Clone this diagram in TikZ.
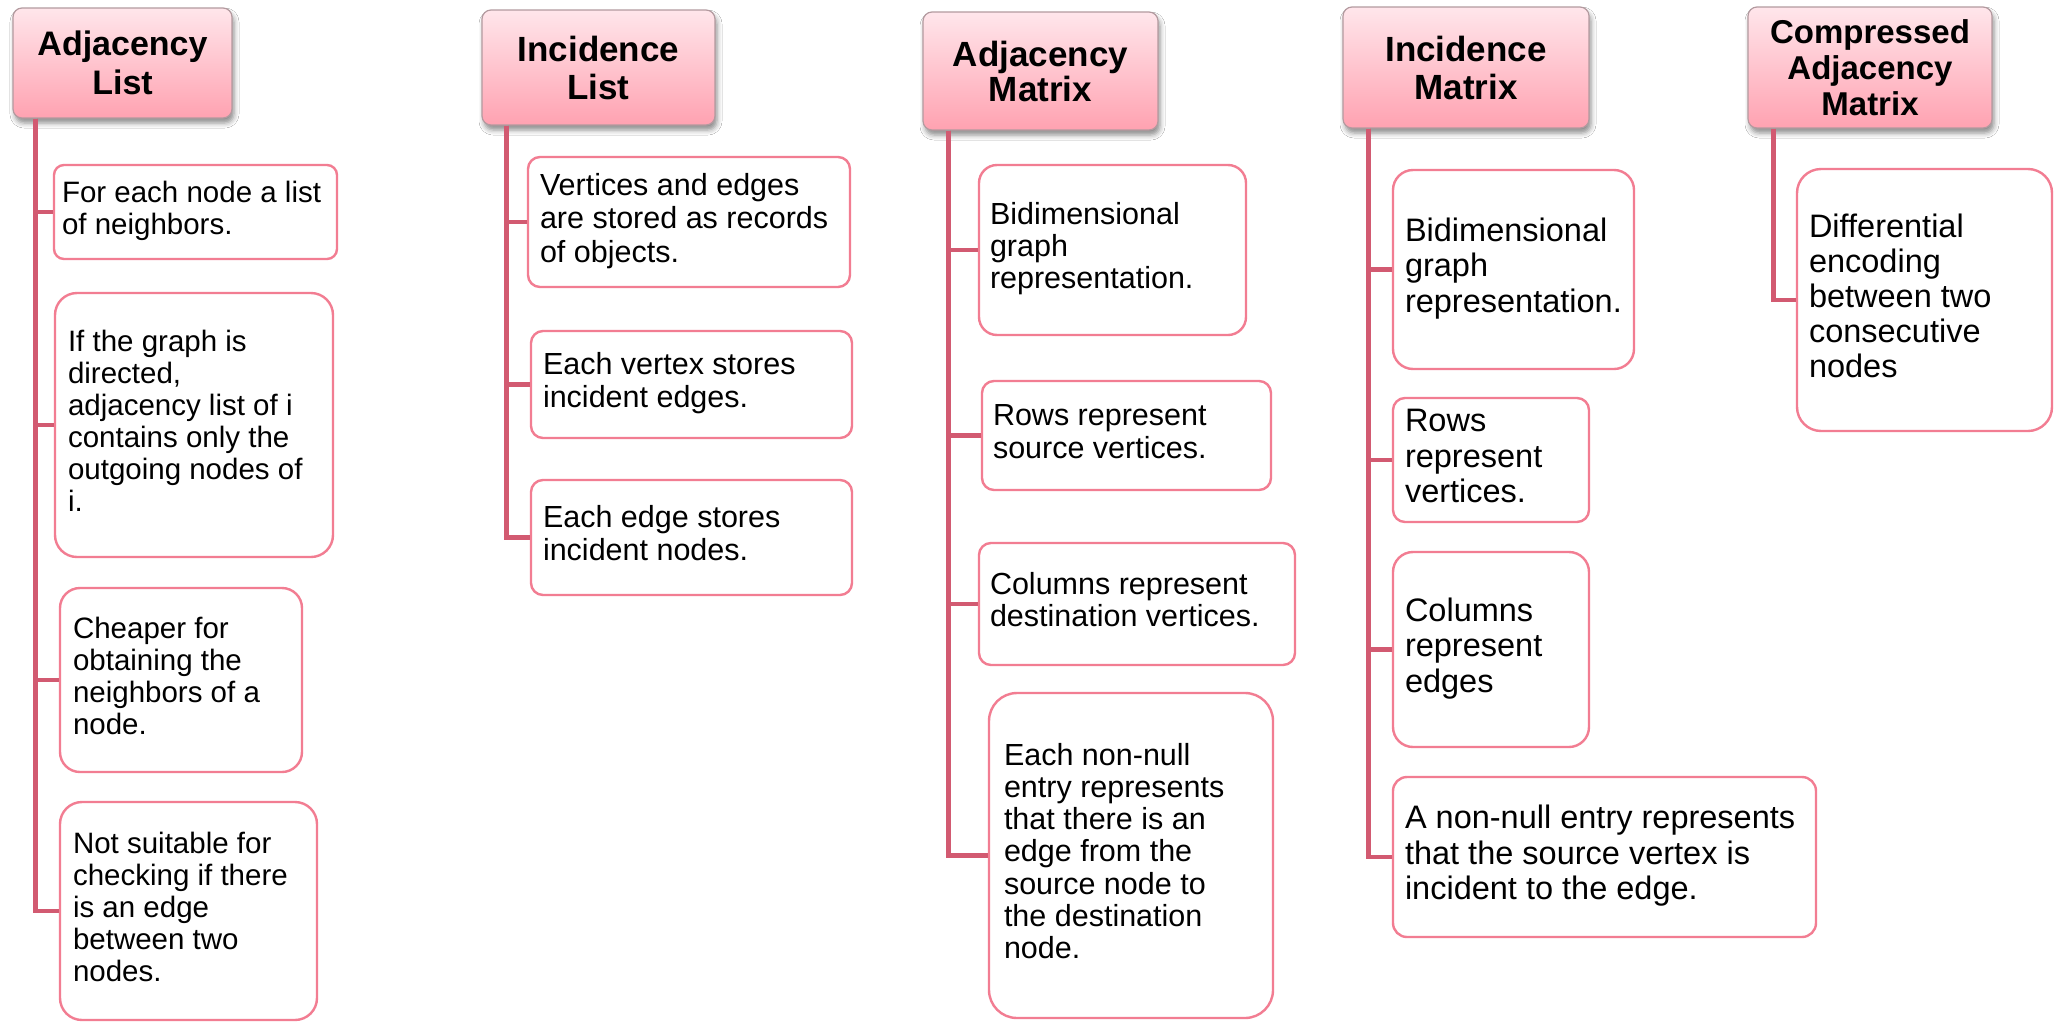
\documentclass[tikz,border=0pt]{standalone}
\usepackage{fontspec}
\setmainfont{Liberation Sans}
\usetikzlibrary{shadows.blur}

\definecolor{hdrtop}{HTML}{FFE6EB}
\definecolor{hdrbot}{HTML}{FFA2B1}
\definecolor{hdredge}{HTML}{B39A9F}
\definecolor{wire}{HTML}{D25A71}
\definecolor{leafedge}{HTML}{F27D92}

% font size shortcut and left-aligned multi-line text of a fixed width
\newcommand\fs[2]{\fontsize{#1}{#2}\selectfont}
\newcommand\leaftext[2]{\raisebox{-3pt}{\makebox[#1pt][l]{\begin{tabular}{@{}l@{}}#2\end{tabular}}}}

\tikzset{
  hdr/.style={draw=hdredge, line width=1.2pt, rounded corners=9pt,
    top color=hdrtop, bottom color=hdrbot, inner sep=0pt, align=center,
    blur shadow={shadow xshift=2pt, shadow yshift=-5pt,
      shadow blur radius=5pt, shadow opacity=45}},
  leaf/.style={draw=leafedge, line width=2.4pt, fill=white, inner sep=0pt},
  wirestyle/.style={draw=wire, line width=4.5pt}
}

\begin{document}
\begin{tikzpicture}[x=1pt, y=-1pt]
\fill[white] (0,0) rectangle (2056,1023);
\useasboundingbox (0,0) rectangle (2056,1023);

% ---- Adjacency List ----
\node[hdr, font=\fs{34}{39}\bfseries, minimum width=219pt, minimum height=110pt] (al) at (122.5,63) {Adjacency\\List};
\begin{scope}[font=\fs{29.5}{32}]
\node[leaf, rounded corners=10pt, minimum width=283pt, minimum height=94pt] (al1) at (195.5,212)
  {\leaftext{267}{For each node a list\\of neighbors.}};
\node[leaf, rounded corners=22pt, minimum width=278pt, minimum height=264pt] (al2) at (194,425)
  {\leaftext{252}{If the graph is\\directed,\\adjacency list of i\\contains only the\\outgoing nodes of\\i.}};
\node[leaf, rounded corners=20pt, minimum width=242pt, minimum height=184pt] (al3) at (181,680)
  {\leaftext{216}{Cheaper for\\obtaining the\\neighbors of a\\node.}};
\node[leaf, rounded corners=22pt, minimum width=257pt, minimum height=218pt] (al4) at (188.5,911)
  {\leaftext{231}{Not suitable for\\checking if there\\is an edge\\between two\\nodes.}};
\end{scope}

% ---- Incidence List ----
\node[hdr, font=\fs{35}{38}\bfseries, minimum width=233pt, minimum height=115pt] (il) at (598.5,67.5) {Incidence\\List};
\begin{scope}[font=\fs{30.5}{33.5}]
\node[leaf, rounded corners=12pt, minimum width=322pt, minimum height=130pt] (il1) at (689,222)
  {\leaftext{298}{Vertices and edges\\are stored as records\\of objects.}};
\node[leaf, rounded corners=12pt, minimum width=321pt, minimum height=107pt] (il2) at (691.5,384.5)
  {\leaftext{297}{Each vertex stores\\incident edges.}};
\node[leaf, rounded corners=12pt, minimum width=321pt, minimum height=115pt] (il3) at (691.5,537.5)
  {\leaftext{297}{Each edge stores\\incident nodes.}};
\end{scope}

% ---- Adjacency Matrix ----
\node[hdr, font=\fs{35}{35}\bfseries, minimum width=235pt, minimum height=118pt] (am) at (1040.5,71) {Adjacency\\Matrix};
\begin{scope}[font=\fs{30.5}{32.3}]
\node[leaf, rounded corners=18pt, minimum width=267pt, minimum height=170pt] (am1) at (1112.5,250)
  {\leaftext{245}{Bidimensional\\graph\\representation.}};
\node[leaf, rounded corners=12pt, minimum width=289pt, minimum height=109pt] (am2) at (1126.5,435.5)
  {\leaftext{267}{Rows represent\\source vertices.}};
\node[leaf, rounded corners=12pt, minimum width=316pt, minimum height=122pt] (am3) at (1137,604)
  {\leaftext{294}{Columns represent\\destination vertices.}};
\node[leaf, rounded corners=28pt, minimum width=284pt, minimum height=325pt] (am4) at (1131,855.5)
  {\leaftext{254}{Each non-null\\entry represents\\that there is an\\edge from the\\source node to\\the destination\\node.}};
\end{scope}

% ---- Incidence Matrix ----
\node[hdr, font=\fs{35}{38}\bfseries, minimum width=246pt, minimum height=121pt] (im) at (1466,67.5) {Incidence\\Matrix};
\begin{scope}[font=\fs{32.5}{35.5}]
\node[leaf, rounded corners=20pt, minimum width=241pt, minimum height=199pt] (im1) at (1513.5,269.5)
  {\leaftext{217}{Bidimensional\\graph\\representation.}};
\node[leaf, rounded corners=12pt, minimum width=196pt, minimum height=124pt] (im2) at (1491,460)
  {\leaftext{172}{Rows\\represent\\vertices.}};
\node[leaf, rounded corners=20pt, minimum width=196pt, minimum height=195pt] (im3) at (1491,649.5)
  {\leaftext{172}{Columns\\represent\\edges}};
\node[leaf, rounded corners=14pt, minimum width=423pt, minimum height=160pt] (im4) at (1604.5,857)
  {\leaftext{399}{A non-null entry represents\\that the source vertex is\\incident to the edge.}};
\end{scope}

% ---- Compressed Adjacency Matrix ----
\node[hdr, font=\fs{33}{36}\bfseries, minimum width=244pt, minimum height=121pt] (cam) at (1870,67.5) {Compressed\\Adjacency\\Matrix};
\node[leaf, font=\fs{32.5}{35}, rounded corners=24pt, minimum width=255pt, minimum height=262pt] (cam1) at (1924.5,300)
  {\leaftext{231}{Differential\\encoding\\between two\\consecutive\\nodes}};

% ---- tree connectors ----
\foreach \c in {al1,al2,al3,al4} \draw[wirestyle] ([xshift=23pt]al.south west) |- (\c.west);
\foreach \c in {il1,il2,il3} \draw[wirestyle] ([xshift=25pt]il.south west) |- (\c.west);
\foreach \c in {am1,am2,am3,am4} \draw[wirestyle] ([xshift=26pt]am.south west) |- (\c.west);
\foreach \c in {im1,im2,im3,im4} \draw[wirestyle] ([xshift=26pt]im.south west) |- (\c.west);
\draw[wirestyle] ([xshift=26pt]cam.south west) |- (cam1.west);
\end{tikzpicture}
\end{document}
